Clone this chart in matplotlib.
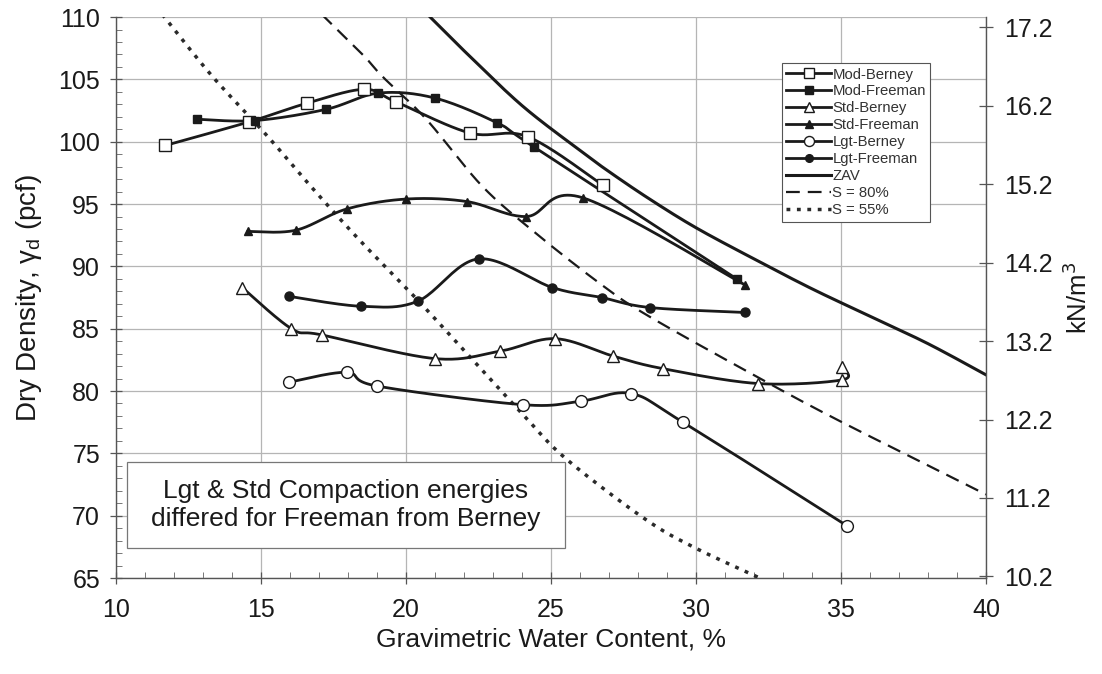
import numpy as np
import matplotlib
matplotlib.use("Agg")
import matplotlib.pyplot as plt
from matplotlib.lines import Line2D
from matplotlib.patches import Rectangle
from matplotlib.ticker import MultipleLocator

plt.rcParams['font.family'] = ['Liberation Sans', 'DejaVu Sans']

# ---------------- data ----------------
mod_berney_w = [11.7, 14.6, 16.6, 18.55, 19.65, 22.2, 24.2, 26.8]
mod_berney_d = [99.7, 101.6, 103.1, 104.2, 103.2, 100.7, 100.4, 96.5]

mod_freeman_w = [12.8, 14.8, 17.25, 19.05, 21.0, 23.15, 24.4, 31.4]
mod_freeman_d = [101.8, 101.7, 102.6, 103.9, 103.5, 101.5, 99.6, 89.0]

std_berney_w = [14.35, 16.05, 17.1, 21.0, 23.25, 25.15, 27.15, 28.85, 32.15, 35.05, 35.05]
std_berney_d = [88.3, 85.0, 84.5, 82.6, 83.2, 84.2, 82.8, 81.8, 80.6, 80.9, 81.9]

std_freeman_w = [14.55, 16.2, 17.95, 20.0, 22.1, 24.15, 26.1, 31.7]
std_freeman_d = [92.8, 92.9, 94.6, 95.4, 95.2, 94.0, 95.5, 88.5]

lgt_berney_w = [15.95, 17.95, 19.0, 24.05, 26.05, 27.75, 29.55, 35.2]
lgt_berney_d = [80.7, 81.5, 80.4, 78.9, 79.2, 79.8, 77.5, 69.2]

lgt_freeman_w = [15.95, 18.45, 20.4, 22.5, 25.05, 26.75, 28.4, 31.7]
lgt_freeman_d = [87.6, 86.8, 87.2, 90.6, 88.3, 87.5, 86.7, 86.3]

zav_w = [20.66, 22.0, 24.0, 26.0, 27.0, 28.4, 30.0, 32.0, 34.0, 36.0, 38.0, 40.0]
zav_d = [110.4, 107.3, 102.9, 99.3, 97.6, 95.4, 93.1, 90.6, 88.2, 86.0, 83.8, 81.3]

s80_w = [17.1, 18.5, 19.2, 20.7, 22.6, 24.4, 26.7, 28.3, 31.9, 34.7, 38.2, 40.0]
s80_d = [110.2, 107.0, 105.2, 101.8, 96.5, 92.8, 88.6, 86.1, 81.4, 77.9, 73.8, 71.7]

s55_w = [11.6, 13.3, 15.2, 16.8, 18.4, 20.4, 22.1, 24.0, 25.5, 28.2, 29.9, 32.2]
s55_d = [110.2, 105.3, 100.5, 96.2, 92.1, 87.3, 83.0, 78.2, 74.6, 69.8, 67.5, 65.0]

x_ticks = [10, 15, 20, 25, 30, 35, 40]
y_ticks = [65, 70, 75, 80, 85, 90, 95, 100, 105, 110]
kn_ticks = [10.2, 11.2, 12.2, 13.2, 14.2, 15.2, 16.2, 17.2]
kn_limits = [10.18, 17.33]

annotation = "Lgt & Std Compaction energies\ndiffered for Freeman from Berney"

# ---------------- figure ----------------
fig = plt.figure(figsize=(11.02, 6.74), dpi=100)
ax = fig.add_axes([0.1053, 0.1424, 0.7894, 0.8323])
ax.set_xlim(10, 40)
ax.set_ylim(65, 110)

INK = '#1a1a1a'
GRID = '#b5b5b5'


def smooth(ws, ds, n=24):
    """Catmull-Rom smoothing done in display space (like a spreadsheet's smoothed line)."""
    pts = ax.transData.transform(np.column_stack([ws, ds]))
    P = np.vstack([pts[0], pts, pts[-1]])
    out = []
    t = np.linspace(0, 1, n, endpoint=False)[:, None]
    for i in range(1, len(P) - 2):
        p0, p1, p2, p3 = P[i - 1], P[i], P[i + 1], P[i + 2]
        seg = 0.5 * (2 * p1 + (-p0 + p2) * t + (2 * p0 - 5 * p1 + 4 * p2 - p3) * t ** 2
                     + (-p0 + 3 * p1 - 3 * p2 + p3) * t ** 3)
        out.append(seg)
    out.append(pts[-1][None, :])
    res = ax.transData.inverted().transform(np.vstack(out))
    return res[:, 0], res[:, 1]


DASH80 = (0, (6.2, 3.6))
DOT55 = (0, (1.1, 1.9))

# reference curves
zx, zy = smooth(zav_w, zav_d)
ax.plot(zx, zy, color=INK, lw=2.2, zorder=3)
sx, sy = smooth(s80_w, s80_d)
ax.plot(sx, sy, color=INK, lw=1.6, linestyle=DASH80, zorder=3)
dx, dy = smooth(s55_w, s55_d)
ax.plot(dx, dy, color='#2a2a2a', lw=2.5, linestyle=DOT55, zorder=3)

series = [
    ("Mod-Berney", mod_berney_w, mod_berney_d, 's', 'white', 9),
    ("Mod-Freeman", mod_freeman_w, mod_freeman_d, 's', INK, 6),
    ("Std-Berney", std_berney_w, std_berney_d, '^', 'white', 8),
    ("Std-Freeman", std_freeman_w, std_freeman_d, '^', INK, 6),
    ("Lgt-Berney", lgt_berney_w, lgt_berney_d, 'o', 'white', 8.5),
    ("Lgt-Freeman", lgt_freeman_w, lgt_freeman_d, 'o', INK, 6.5),
]

handles = []
for name, ws, ds, mk, fc, ms in series:
    lx, ly = smooth(ws, ds)
    ax.plot(lx, ly, color=INK, lw=2.0, zorder=4)
    ax.plot(ws, ds, linestyle='none', marker=mk, markersize=ms, markerfacecolor=fc,
            markeredgecolor=INK, markeredgewidth=1.0, zorder=5)
    handles.append(Line2D([], [], color=INK, lw=2.0, marker=mk, markersize=ms * 0.85,
                          markerfacecolor=fc, markeredgecolor=INK, markeredgewidth=1.0,
                          label=name))
handles.append(Line2D([], [], color=INK, lw=2.2, label="ZAV"))
handles.append(Line2D([], [], color=INK, lw=1.6, linestyle=DASH80, label="S = 80%"))
handles.append(Line2D([], [], color='#2a2a2a', lw=2.5, linestyle=DOT55, label="S = 55%"))

# axes styling
ax.set_xticks(x_ticks)
ax.set_yticks(y_ticks)
ax.xaxis.set_minor_locator(MultipleLocator(1))
ax.yaxis.set_minor_locator(MultipleLocator(1))
ax.grid(True, which='major', color=GRID, lw=0.9, zorder=0)
ax.set_axisbelow(True)
for s in ['top', 'right']:
    ax.spines[s].set_visible(False)
for s in ['left', 'bottom']:
    ax.spines[s].set_color('#555555')
    ax.spines[s].set_linewidth(1.0)
ax.tick_params(which='major', direction='inout', length=9, width=0.9, colors='#555555',
               labelcolor=INK, labelsize=18)
ax.tick_params(axis='y', which='major', pad=7)
ax.tick_params(axis='x', which='major', pad=10)
ax.tick_params(which='minor', direction='in', length=4, width=0.7, colors='#777777')

ax.set_xlabel("Gravimetric Water Content, %", fontsize=19, color=INK, labelpad=4)
ax.set_ylabel(r"Dry Density, $\mathregular{\gamma_d}$ (pcf)", fontsize=20, color=INK,
              labelpad=10)

ax2 = ax.twinx()
ax2.set_ylim(*kn_limits)
ax2.set_yticks(kn_ticks)
ax2.set_yticklabels([f"{v:.1f}" for v in kn_ticks])
for s in ['top', 'left', 'bottom']:
    ax2.spines[s].set_visible(False)
ax2.spines['right'].set_color('#555555')
ax2.spines['right'].set_linewidth(1.0)
ax2.tick_params(which='major', direction='inout', length=10, width=0.9, colors='#555555',
                labelcolor=INK, labelsize=18, pad=8)
ax2.set_ylabel(r"kN/m$^3$", fontsize=18.5, color=INK, labelpad=8)

# legend
leg = ax.legend(handles=handles, loc='upper left', bbox_to_anchor=(0.7655, 0.918),
                borderaxespad=0, frameon=True, fancybox=False, fontsize=10.7,
                handlelength=3.0, handletextpad=0.1, labelspacing=0.2,
                borderpad=0.3, framealpha=1)
leg.get_frame().set_edgecolor('#555555')
leg.get_frame().set_linewidth(0.8)
for t in leg.get_texts():
    t.set_color('#333333')
leg.set_zorder(10)

# annotation box
ax.add_patch(Rectangle((0.0126, 0.0535), 0.5034, 0.1533, transform=ax.transAxes,
                       facecolor='white', edgecolor='#777777', lw=0.9, zorder=8))
ax.text(0.2644, 0.130, annotation, transform=ax.transAxes, ha='center', va='center',
        fontsize=19, color=INK, linespacing=1.2, zorder=9)

fig.savefig("out.png", dpi=100, facecolor='white')
